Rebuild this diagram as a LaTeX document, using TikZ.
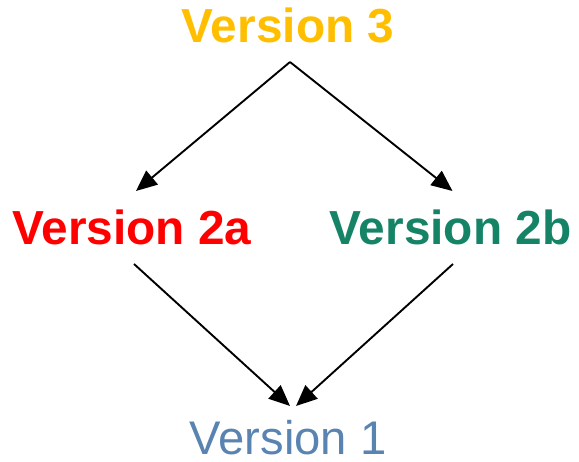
\documentclass[tikz,border=0pt]{standalone}
\usepackage{fontspec}
\setmainfont{Liberation Sans}
\usetikzlibrary{arrows.meta,calc}
\definecolor{cOrange}{HTML}{FFBF00}
\definecolor{cRed}{HTML}{FF0000}
\definecolor{cGreen}{HTML}{158466}
\definecolor{cBlue}{HTML}{5983B0}
\begin{document}
\begin{tikzpicture}[x=1pt,y=-1pt,
  lbl/.style={inner sep=0pt,anchor=base,font=\fontsize{47.8}{50}\selectfont\bfseries},
  lblr/.style={inner sep=0pt,anchor=base,font=\fontsize{47.2}{50}\selectfont},
  conn/.style={line width=1.9pt,-{Triangle[length=21pt,width=18pt]}}]
\useasboundingbox (0,0) rectangle (579,462);
\node[lbl,text=cOrange] (v3) at (288,43) {Version 3};
\node[lbl,text=cRed] (v2a) at (132,245) {Version 2a};
\node[lbl,text=cGreen] (v2b) at (450.5,245) {Version 2b};
\node[lblr,text=cBlue] (v1) at (288,455) {Version 1};
\coordinate (s3) at ($(v3.base)+(2,19)$);
\coordinate (e2a) at ($(v2a.base)+(4,-54)$);
\coordinate (e2b) at ($(v2b.base)+(2,-54)$);
\coordinate (s2a) at ($(v2a.base)+(2,19)$);
\coordinate (s2b) at ($(v2b.base)+(2.5,19)$);
\coordinate (e1a) at ($(v1.base)+(2,-49)$);
\coordinate (e1b) at ($(v1.base)+(8,-49)$);
\draw[conn] (s3) -- (e2a);
\draw[conn] (s3) -- (e2b);
\draw[conn] (s2a) -- (e1a);
\draw[conn] (s2b) -- (e1b);
\end{tikzpicture}
\end{document}
